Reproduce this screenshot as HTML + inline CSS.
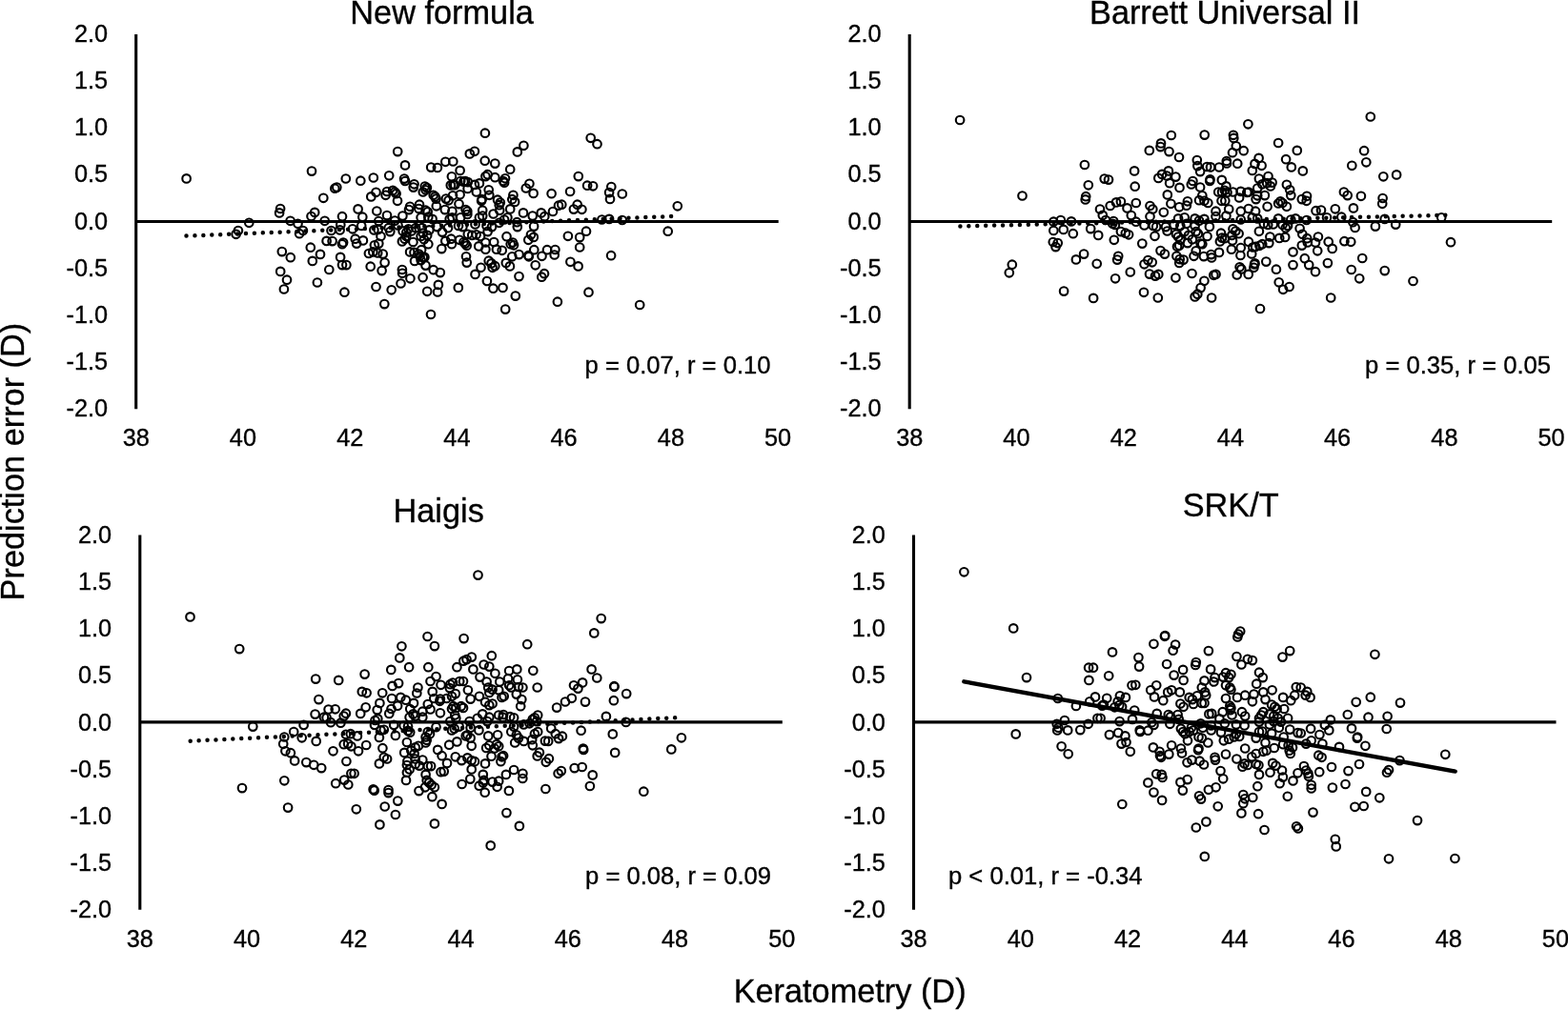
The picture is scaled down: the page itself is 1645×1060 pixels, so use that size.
<!DOCTYPE html>
<html lang="en">
<head>
<meta charset="utf-8">
<title>Prediction error vs keratometry</title>
<style>
html,body{margin:0;padding:0;background:#fff;}
body{width:1645px;height:1060px;overflow:hidden;}
svg{display:block;font-family:"Liberation Sans",Arial,Helvetica,sans-serif;fill:#000;}
text{stroke:#000;stroke-width:0.35;}
.t{font-size:34.3px;text-anchor:middle;}
.yl{font-size:25.3px;text-anchor:end;}
.xl{font-size:25.3px;text-anchor:middle;}
.st{font-size:25.6px;}
.ax{stroke:#000;stroke-width:3.1;fill:none;}
.zl{stroke:#000;stroke-width:3.2;fill:none;}
.dot{stroke:#000;stroke-width:4.5;stroke-linecap:round;stroke-dasharray:0 8.93;fill:none;}
.reg{stroke:#000;stroke-width:4.4;fill:none;stroke-linecap:round;}
.p circle{fill:none;stroke:#000;stroke-width:2.1;}
</style>
</head>
<body>
<svg width="1645" height="1060" viewBox="0 0 1645 1060">
<rect x="0" y="0" width="1645" height="1060" fill="#fff"/>

<g id="panel1">
<text class="t" x="463.6" y="24.9">New formula</text>
<line class="ax" x1="142.7" y1="36.0" x2="142.7" y2="429.30"/>
<line class="zl" x1="142.7" y1="232.50" x2="816.70" y2="232.50"/>
<text class="yl" x="113.1" y="43.90">2.0</text>
<text class="yl" x="113.1" y="93.06">1.5</text>
<text class="yl" x="113.1" y="142.22">1.0</text>
<text class="yl" x="113.1" y="191.38">0.5</text>
<text class="yl" x="113.1" y="240.54">0.0</text>
<text class="yl" x="113.1" y="289.70">-0.5</text>
<text class="yl" x="113.1" y="338.86">-1.0</text>
<text class="yl" x="113.1" y="388.02">-1.5</text>
<text class="yl" x="113.1" y="437.18">-2.0</text>
<text class="xl" x="142.7" y="468.4">38</text>
<text class="xl" x="254.9" y="468.4">40</text>
<text class="xl" x="367.2" y="468.4">42</text>
<text class="xl" x="479.4" y="468.4">44</text>
<text class="xl" x="591.6" y="468.4">46</text>
<text class="xl" x="703.9" y="468.4">48</text>
<text class="xl" x="816.1" y="468.4">50</text>
<line class="dot" x1="195.5" y1="247.6" x2="704.49" y2="227.0"/>
<text class="st" x="808.5" y="391.7" text-anchor="end">p = 0.07, r = 0.10</text>
<g class="p">
<circle cx="195.6" cy="187.4" r="4.3"/>
<circle cx="327.0" cy="179.6" r="4.3"/>
<circle cx="362.8" cy="187.5" r="4.3"/>
<circle cx="351.3" cy="197.7" r="4.3"/>
<circle cx="353.3" cy="196.6" r="4.3"/>
<circle cx="339.3" cy="207.8" r="4.3"/>
<circle cx="294.1" cy="219.0" r="4.3"/>
<circle cx="293.1" cy="223.4" r="4.3"/>
<circle cx="330.2" cy="222.9" r="4.3"/>
<circle cx="508.9" cy="139.7" r="4.3"/>
<circle cx="417.2" cy="159.1" r="4.3"/>
<circle cx="497.9" cy="158.8" r="4.3"/>
<circle cx="492.8" cy="161.4" r="4.3"/>
<circle cx="542.8" cy="159.4" r="4.3"/>
<circle cx="425.0" cy="173.4" r="4.3"/>
<circle cx="467.3" cy="169.8" r="4.3"/>
<circle cx="475.3" cy="169.5" r="4.3"/>
<circle cx="452.2" cy="175.6" r="4.3"/>
<circle cx="458.9" cy="176.0" r="4.3"/>
<circle cx="508.7" cy="168.7" r="4.3"/>
<circle cx="519.3" cy="171.6" r="4.3"/>
<circle cx="482.6" cy="178.9" r="4.3"/>
<circle cx="535.2" cy="177.7" r="4.3"/>
<circle cx="378.3" cy="189.7" r="4.3"/>
<circle cx="391.8" cy="186.5" r="4.3"/>
<circle cx="408.2" cy="184.3" r="4.3"/>
<circle cx="473.9" cy="185.3" r="4.3"/>
<circle cx="511.6" cy="183.2" r="4.3"/>
<circle cx="509.4" cy="185.1" r="4.3"/>
<circle cx="519.3" cy="186.2" r="4.3"/>
<circle cx="530.0" cy="187.3" r="4.3"/>
<circle cx="528.0" cy="190.0" r="4.3"/>
<circle cx="529.1" cy="191.7" r="4.3"/>
<circle cx="424.1" cy="187.6" r="4.3"/>
<circle cx="425.0" cy="190.0" r="4.3"/>
<circle cx="434.5" cy="193.3" r="4.3"/>
<circle cx="433.7" cy="196.6" r="4.3"/>
<circle cx="445.8" cy="195.5" r="4.3"/>
<circle cx="447.9" cy="197.1" r="4.3"/>
<circle cx="446.5" cy="199.3" r="4.3"/>
<circle cx="443.8" cy="201.5" r="4.3"/>
<circle cx="475.5" cy="193.9" r="4.3"/>
<circle cx="477.2" cy="194.2" r="4.3"/>
<circle cx="472.8" cy="194.4" r="4.3"/>
<circle cx="483.2" cy="190.0" r="4.3"/>
<circle cx="486.5" cy="190.6" r="4.3"/>
<circle cx="488.1" cy="190.0" r="4.3"/>
<circle cx="490.8" cy="191.1" r="4.3"/>
<circle cx="497.9" cy="193.9" r="4.3"/>
<circle cx="502.9" cy="192.4" r="4.3"/>
<circle cx="490.6" cy="197.9" r="4.3"/>
<circle cx="499.8" cy="201.5" r="4.3"/>
<circle cx="512.7" cy="199.3" r="4.3"/>
<circle cx="513.3" cy="204.8" r="4.3"/>
<circle cx="394.5" cy="201.8" r="4.3"/>
<circle cx="389.3" cy="206.4" r="4.3"/>
<circle cx="406.0" cy="201.0" r="4.3"/>
<circle cx="404.6" cy="204.8" r="4.3"/>
<circle cx="412.1" cy="199.9" r="4.3"/>
<circle cx="414.2" cy="201.5" r="4.3"/>
<circle cx="415.6" cy="203.2" r="4.3"/>
<circle cx="417.0" cy="210.8" r="4.3"/>
<circle cx="454.7" cy="204.8" r="4.3"/>
<circle cx="456.4" cy="206.4" r="4.3"/>
<circle cx="457.5" cy="208.6" r="4.3"/>
<circle cx="482.6" cy="204.3" r="4.3"/>
<circle cx="475.0" cy="205.3" r="4.3"/>
<circle cx="467.9" cy="208.6" r="4.3"/>
<circle cx="470.6" cy="210.3" r="4.3"/>
<circle cx="505.6" cy="209.2" r="4.3"/>
<circle cx="505.1" cy="210.8" r="4.3"/>
<circle cx="522.0" cy="209.7" r="4.3"/>
<circle cx="524.8" cy="212.5" r="4.3"/>
<circle cx="523.7" cy="215.2" r="4.3"/>
<circle cx="538.4" cy="204.8" r="4.3"/>
<circle cx="537.3" cy="209.2" r="4.3"/>
<circle cx="540.1" cy="211.9" r="4.3"/>
<circle cx="457.8" cy="216.3" r="4.3"/>
<circle cx="481.5" cy="214.1" r="4.3"/>
<circle cx="430.1" cy="216.8" r="4.3"/>
<circle cx="429.0" cy="220.1" r="4.3"/>
<circle cx="440.0" cy="214.7" r="4.3"/>
<circle cx="439.4" cy="219.0" r="4.3"/>
<circle cx="446.5" cy="220.7" r="4.3"/>
<circle cx="448.7" cy="222.3" r="4.3"/>
<circle cx="375.6" cy="219.4" r="4.3"/>
<circle cx="395.3" cy="221.5" r="4.3"/>
<circle cx="466.8" cy="220.1" r="4.3"/>
<circle cx="474.4" cy="221.8" r="4.3"/>
<circle cx="488.6" cy="220.1" r="4.3"/>
<circle cx="490.3" cy="221.8" r="4.3"/>
<circle cx="506.2" cy="220.7" r="4.3"/>
<circle cx="535.2" cy="219.4" r="4.3"/>
<circle cx="524.2" cy="220.7" r="4.3"/>
<circle cx="517.6" cy="224.5" r="4.3"/>
<circle cx="619.7" cy="144.8" r="4.3"/>
<circle cx="626.5" cy="151.2" r="4.3"/>
<circle cx="549.4" cy="152.8" r="4.3"/>
<circle cx="606.8" cy="185.1" r="4.3"/>
<circle cx="555.4" cy="192.8" r="4.3"/>
<circle cx="551.8" cy="197.5" r="4.3"/>
<circle cx="559.6" cy="202.9" r="4.3"/>
<circle cx="578.6" cy="203.2" r="4.3"/>
<circle cx="598.1" cy="201.0" r="4.3"/>
<circle cx="616.1" cy="194.7" r="4.3"/>
<circle cx="622.1" cy="195.3" r="4.3"/>
<circle cx="641.3" cy="196.0" r="4.3"/>
<circle cx="639.1" cy="202.1" r="4.3"/>
<circle cx="640.0" cy="208.9" r="4.3"/>
<circle cx="652.8" cy="203.5" r="4.3"/>
<circle cx="586.0" cy="215.7" r="4.3"/>
<circle cx="589.3" cy="214.7" r="4.3"/>
<circle cx="605.7" cy="214.7" r="4.3"/>
<circle cx="601.9" cy="219.6" r="4.3"/>
<circle cx="610.4" cy="219.8" r="4.3"/>
<circle cx="580.0" cy="222.0" r="4.3"/>
<circle cx="567.8" cy="223.4" r="4.3"/>
<circle cx="549.0" cy="223.4" r="4.3"/>
<circle cx="710.8" cy="216.3" r="4.3"/>
<circle cx="261.3" cy="233.8" r="4.3"/>
<circle cx="249.9" cy="242.0" r="4.3"/>
<circle cx="247.6" cy="245.8" r="4.3"/>
<circle cx="304.6" cy="231.8" r="4.3"/>
<circle cx="312.5" cy="234.8" r="4.3"/>
<circle cx="317.9" cy="242.0" r="4.3"/>
<circle cx="314.1" cy="245.2" r="4.3"/>
<circle cx="326.5" cy="227.0" r="4.3"/>
<circle cx="359.0" cy="227.2" r="4.3"/>
<circle cx="340.7" cy="231.8" r="4.3"/>
<circle cx="347.5" cy="242.0" r="4.3"/>
<circle cx="356.6" cy="241.4" r="4.3"/>
<circle cx="357.3" cy="235.9" r="4.3"/>
<circle cx="342.6" cy="252.9" r="4.3"/>
<circle cx="348.6" cy="253.1" r="4.3"/>
<circle cx="359.0" cy="256.2" r="4.3"/>
<circle cx="360.1" cy="254.5" r="4.3"/>
<circle cx="325.8" cy="259.7" r="4.3"/>
<circle cx="336.0" cy="266.9" r="4.3"/>
<circle cx="295.8" cy="264.1" r="4.3"/>
<circle cx="304.8" cy="270.2" r="4.3"/>
<circle cx="327.8" cy="273.9" r="4.3"/>
<circle cx="357.1" cy="269.9" r="4.3"/>
<circle cx="359.0" cy="278.1" r="4.3"/>
<circle cx="363.4" cy="278.1" r="4.3"/>
<circle cx="345.3" cy="283.0" r="4.3"/>
<circle cx="294.2" cy="284.9" r="4.3"/>
<circle cx="301.0" cy="293.7" r="4.3"/>
<circle cx="332.9" cy="296.5" r="4.3"/>
<circle cx="297.9" cy="303.5" r="4.3"/>
<circle cx="361.4" cy="306.7" r="4.3"/>
<circle cx="452.0" cy="330.0" r="4.3"/>
<circle cx="403.3" cy="319.1" r="4.3"/>
<circle cx="530.2" cy="324.6" r="4.3"/>
<circle cx="540.8" cy="310.6" r="4.3"/>
<circle cx="394.5" cy="301.0" r="4.3"/>
<circle cx="410.7" cy="304.3" r="4.3"/>
<circle cx="420.5" cy="297.5" r="4.3"/>
<circle cx="448.2" cy="305.8" r="4.3"/>
<circle cx="459.1" cy="306.5" r="4.3"/>
<circle cx="459.9" cy="298.9" r="4.3"/>
<circle cx="480.8" cy="301.9" r="4.3"/>
<circle cx="517.4" cy="302.7" r="4.3"/>
<circle cx="527.5" cy="301.9" r="4.3"/>
<circle cx="510.9" cy="295.0" r="4.3"/>
<circle cx="430.4" cy="292.3" r="4.3"/>
<circle cx="443.6" cy="291.2" r="4.3"/>
<circle cx="498.5" cy="287.9" r="4.3"/>
<circle cx="421.9" cy="283.0" r="4.3"/>
<circle cx="422.1" cy="286.8" r="4.3"/>
<circle cx="454.7" cy="283.2" r="4.3"/>
<circle cx="461.8" cy="286.1" r="4.3"/>
<circle cx="544.5" cy="290.1" r="4.3"/>
<circle cx="388.7" cy="279.7" r="4.3"/>
<circle cx="400.6" cy="284.1" r="4.3"/>
<circle cx="403.6" cy="275.6" r="4.3"/>
<circle cx="446.5" cy="278.6" r="4.3"/>
<circle cx="504.5" cy="280.8" r="4.3"/>
<circle cx="489.7" cy="275.6" r="4.3"/>
<circle cx="489.0" cy="269.3" r="4.3"/>
<circle cx="512.7" cy="273.7" r="4.3"/>
<circle cx="515.5" cy="276.4" r="4.3"/>
<circle cx="519.3" cy="279.2" r="4.3"/>
<circle cx="516.6" cy="280.8" r="4.3"/>
<circle cx="530.8" cy="275.9" r="4.3"/>
<circle cx="534.9" cy="279.4" r="4.3"/>
<circle cx="435.0" cy="273.9" r="4.3"/>
<circle cx="440.5" cy="268.8" r="4.3"/>
<circle cx="443.8" cy="270.4" r="4.3"/>
<circle cx="445.4" cy="269.9" r="4.3"/>
<circle cx="441.6" cy="273.1" r="4.3"/>
<circle cx="430.1" cy="264.4" r="4.3"/>
<circle cx="434.5" cy="264.9" r="4.3"/>
<circle cx="442.1" cy="262.2" r="4.3"/>
<circle cx="439.4" cy="266.6" r="4.3"/>
<circle cx="386.9" cy="266.0" r="4.3"/>
<circle cx="391.3" cy="264.4" r="4.3"/>
<circle cx="396.2" cy="265.5" r="4.3"/>
<circle cx="401.7" cy="266.6" r="4.3"/>
<circle cx="392.9" cy="257.3" r="4.3"/>
<circle cx="397.3" cy="255.6" r="4.3"/>
<circle cx="463.3" cy="261.1" r="4.3"/>
<circle cx="502.3" cy="258.4" r="4.3"/>
<circle cx="509.4" cy="261.7" r="4.3"/>
<circle cx="520.9" cy="261.7" r="4.3"/>
<circle cx="526.7" cy="262.8" r="4.3"/>
<circle cx="537.3" cy="269.3" r="4.3"/>
<circle cx="544.5" cy="267.1" r="4.3"/>
<circle cx="374.1" cy="255.6" r="4.3"/>
<circle cx="380.9" cy="252.4" r="4.3"/>
<circle cx="372.7" cy="250.7" r="4.3"/>
<circle cx="399.5" cy="248.0" r="4.3"/>
<circle cx="467.3" cy="252.9" r="4.3"/>
<circle cx="473.9" cy="256.2" r="4.3"/>
<circle cx="473.3" cy="250.7" r="4.3"/>
<circle cx="482.1" cy="251.8" r="4.3"/>
<circle cx="488.1" cy="255.6" r="4.3"/>
<circle cx="489.7" cy="257.8" r="4.3"/>
<circle cx="486.5" cy="254.0" r="4.3"/>
<circle cx="518.2" cy="254.0" r="4.3"/>
<circle cx="509.4" cy="254.5" r="4.3"/>
<circle cx="531.5" cy="248.2" r="4.3"/>
<circle cx="537.9" cy="254.5" r="4.3"/>
<circle cx="539.0" cy="257.3" r="4.3"/>
<circle cx="535.7" cy="256.2" r="4.3"/>
<circle cx="433.4" cy="254.0" r="4.3"/>
<circle cx="449.3" cy="256.2" r="4.3"/>
<circle cx="421.9" cy="253.4" r="4.3"/>
<circle cx="424.6" cy="250.7" r="4.3"/>
<circle cx="426.3" cy="248.0" r="4.3"/>
<circle cx="444.9" cy="251.3" r="4.3"/>
<circle cx="441.6" cy="248.0" r="4.3"/>
<circle cx="448.2" cy="246.9" r="4.3"/>
<circle cx="443.8" cy="244.7" r="4.3"/>
<circle cx="464.0" cy="243.6" r="4.3"/>
<circle cx="490.8" cy="245.8" r="4.3"/>
<circle cx="495.2" cy="246.9" r="4.3"/>
<circle cx="499.6" cy="246.3" r="4.3"/>
<circle cx="504.0" cy="248.0" r="4.3"/>
<circle cx="511.6" cy="243.1" r="4.3"/>
<circle cx="392.4" cy="241.4" r="4.3"/>
<circle cx="396.7" cy="240.9" r="4.3"/>
<circle cx="409.3" cy="243.1" r="4.3"/>
<circle cx="407.7" cy="239.2" r="4.3"/>
<circle cx="369.9" cy="240.3" r="4.3"/>
<circle cx="379.2" cy="237.0" r="4.3"/>
<circle cx="380.3" cy="227.7" r="4.3"/>
<circle cx="397.3" cy="232.1" r="4.3"/>
<circle cx="406.0" cy="226.1" r="4.3"/>
<circle cx="414.2" cy="231.6" r="4.3"/>
<circle cx="417.5" cy="236.5" r="4.3"/>
<circle cx="422.4" cy="226.6" r="4.3"/>
<circle cx="428.5" cy="240.3" r="4.3"/>
<circle cx="431.7" cy="242.5" r="4.3"/>
<circle cx="426.3" cy="244.1" r="4.3"/>
<circle cx="436.1" cy="239.2" r="4.3"/>
<circle cx="442.7" cy="239.2" r="4.3"/>
<circle cx="450.3" cy="241.4" r="4.3"/>
<circle cx="441.6" cy="228.3" r="4.3"/>
<circle cx="449.3" cy="227.7" r="4.3"/>
<circle cx="453.6" cy="229.9" r="4.3"/>
<circle cx="458.6" cy="238.1" r="4.3"/>
<circle cx="470.0" cy="239.2" r="4.3"/>
<circle cx="471.7" cy="229.9" r="4.3"/>
<circle cx="474.4" cy="228.3" r="4.3"/>
<circle cx="481.0" cy="237.0" r="4.3"/>
<circle cx="485.4" cy="238.1" r="4.3"/>
<circle cx="483.2" cy="228.3" r="4.3"/>
<circle cx="490.3" cy="225.0" r="4.3"/>
<circle cx="498.5" cy="235.4" r="4.3"/>
<circle cx="502.9" cy="228.3" r="4.3"/>
<circle cx="506.2" cy="226.6" r="4.3"/>
<circle cx="510.5" cy="237.0" r="4.3"/>
<circle cx="516.0" cy="238.1" r="4.3"/>
<circle cx="523.7" cy="233.8" r="4.3"/>
<circle cx="529.1" cy="230.5" r="4.3"/>
<circle cx="532.4" cy="228.3" r="4.3"/>
<circle cx="542.3" cy="233.2" r="4.3"/>
<circle cx="542.8" cy="238.1" r="4.3"/>
<circle cx="631.4" cy="230.5" r="4.3"/>
<circle cx="639.1" cy="229.9" r="4.3"/>
<circle cx="652.8" cy="231.0" r="4.3"/>
<circle cx="700.7" cy="242.7" r="4.3"/>
<circle cx="558.7" cy="226.6" r="4.3"/>
<circle cx="571.3" cy="227.2" r="4.3"/>
<circle cx="560.1" cy="237.6" r="4.3"/>
<circle cx="557.0" cy="246.3" r="4.3"/>
<circle cx="559.8" cy="248.9" r="4.3"/>
<circle cx="554.3" cy="251.8" r="4.3"/>
<circle cx="595.9" cy="247.8" r="4.3"/>
<circle cx="615.0" cy="242.7" r="4.3"/>
<circle cx="608.2" cy="249.1" r="4.3"/>
<circle cx="608.2" cy="259.5" r="4.3"/>
<circle cx="560.3" cy="262.2" r="4.3"/>
<circle cx="574.0" cy="262.2" r="4.3"/>
<circle cx="582.4" cy="262.0" r="4.3"/>
<circle cx="581.7" cy="267.5" r="4.3"/>
<circle cx="568.5" cy="268.8" r="4.3"/>
<circle cx="554.3" cy="268.2" r="4.3"/>
<circle cx="554.8" cy="269.3" r="4.3"/>
<circle cx="641.1" cy="268.2" r="4.3"/>
<circle cx="598.4" cy="274.8" r="4.3"/>
<circle cx="606.6" cy="279.4" r="4.3"/>
<circle cx="561.7" cy="278.3" r="4.3"/>
<circle cx="571.0" cy="287.2" r="4.3"/>
<circle cx="568.3" cy="290.7" r="4.3"/>
<circle cx="617.5" cy="306.7" r="4.3"/>
<circle cx="584.9" cy="316.7" r="4.3"/>
<circle cx="671.2" cy="320.0" r="4.3"/>
<circle cx="422.6" cy="242.4" r="4.3"/>
</g>
</g>
<g id="panel2">
<text class="t" x="1285" y="24.9">Barrett Universal II</text>
<line class="ax" x1="954.2" y1="36.0" x2="954.2" y2="429.30"/>
<line class="zl" x1="954.2" y1="232.50" x2="1628.20" y2="232.50"/>
<text class="yl" x="924.6" y="43.90">2.0</text>
<text class="yl" x="924.6" y="93.06">1.5</text>
<text class="yl" x="924.6" y="142.22">1.0</text>
<text class="yl" x="924.6" y="191.38">0.5</text>
<text class="yl" x="924.6" y="240.54">0.0</text>
<text class="yl" x="924.6" y="289.70">-0.5</text>
<text class="yl" x="924.6" y="338.86">-1.0</text>
<text class="yl" x="924.6" y="388.02">-1.5</text>
<text class="yl" x="924.6" y="437.18">-2.0</text>
<text class="xl" x="954.2" y="468.4">38</text>
<text class="xl" x="1066.4" y="468.4">40</text>
<text class="xl" x="1178.7" y="468.4">42</text>
<text class="xl" x="1290.9" y="468.4">44</text>
<text class="xl" x="1403.1" y="468.4">46</text>
<text class="xl" x="1515.4" y="468.4">48</text>
<text class="xl" x="1627.6" y="468.4">50</text>
<line class="dot" x1="1007.4" y1="237.4" x2="1516.68" y2="225.81"/>
<text class="st" x="1627" y="391.7" text-anchor="end">p = 0.35, r = 0.05</text>
<g class="p">
<circle cx="1007.1" cy="126.0" r="4.3"/>
<circle cx="1137.9" cy="173.0" r="4.3"/>
<circle cx="1158.7" cy="187.6" r="4.3"/>
<circle cx="1163.0" cy="188.6" r="4.3"/>
<circle cx="1141.8" cy="194.3" r="4.3"/>
<circle cx="1072.5" cy="205.5" r="4.3"/>
<circle cx="1139.2" cy="206.2" r="4.3"/>
<circle cx="1138.7" cy="209.4" r="4.3"/>
<circle cx="1154.0" cy="219.5" r="4.3"/>
<circle cx="1164.7" cy="216.0" r="4.3"/>
<circle cx="1171.0" cy="212.4" r="4.3"/>
<circle cx="1175.9" cy="211.6" r="4.3"/>
<circle cx="1309.4" cy="130.3" r="4.3"/>
<circle cx="1228.8" cy="142.0" r="4.3"/>
<circle cx="1263.7" cy="141.6" r="4.3"/>
<circle cx="1293.9" cy="141.8" r="4.3"/>
<circle cx="1294.3" cy="144.9" r="4.3"/>
<circle cx="1341.1" cy="150.0" r="4.3"/>
<circle cx="1218.0" cy="150.4" r="4.3"/>
<circle cx="1217.5" cy="154.1" r="4.3"/>
<circle cx="1205.8" cy="157.9" r="4.3"/>
<circle cx="1226.5" cy="159.1" r="4.3"/>
<circle cx="1296.8" cy="153.3" r="4.3"/>
<circle cx="1293.0" cy="160.2" r="4.3"/>
<circle cx="1304.7" cy="158.2" r="4.3"/>
<circle cx="1237.0" cy="165.0" r="4.3"/>
<circle cx="1255.8" cy="168.1" r="4.3"/>
<circle cx="1256.3" cy="174.1" r="4.3"/>
<circle cx="1320.6" cy="165.9" r="4.3"/>
<circle cx="1316.5" cy="171.9" r="4.3"/>
<circle cx="1323.6" cy="173.8" r="4.3"/>
<circle cx="1349.1" cy="167.2" r="4.3"/>
<circle cx="1286.8" cy="169.0" r="4.3"/>
<circle cx="1287.0" cy="171.4" r="4.3"/>
<circle cx="1298.2" cy="171.7" r="4.3"/>
<circle cx="1266.2" cy="175.0" r="4.3"/>
<circle cx="1270.0" cy="175.4" r="4.3"/>
<circle cx="1279.0" cy="175.5" r="4.3"/>
<circle cx="1313.8" cy="179.0" r="4.3"/>
<circle cx="1354.8" cy="175.4" r="4.3"/>
<circle cx="1259.1" cy="180.1" r="4.3"/>
<circle cx="1190.1" cy="179.4" r="4.3"/>
<circle cx="1225.9" cy="179.4" r="4.3"/>
<circle cx="1219.1" cy="182.9" r="4.3"/>
<circle cx="1224.1" cy="184.5" r="4.3"/>
<circle cx="1215.3" cy="186.9" r="4.3"/>
<circle cx="1233.4" cy="185.6" r="4.3"/>
<circle cx="1227.1" cy="192.2" r="4.3"/>
<circle cx="1269.5" cy="188.3" r="4.3"/>
<circle cx="1269.2" cy="190.0" r="4.3"/>
<circle cx="1281.8" cy="188.9" r="4.3"/>
<circle cx="1251.4" cy="190.0" r="4.3"/>
<circle cx="1249.8" cy="193.5" r="4.3"/>
<circle cx="1320.9" cy="187.6" r="4.3"/>
<circle cx="1330.5" cy="185.0" r="4.3"/>
<circle cx="1324.2" cy="193.3" r="4.3"/>
<circle cx="1329.1" cy="192.2" r="4.3"/>
<circle cx="1334.6" cy="191.6" r="4.3"/>
<circle cx="1332.9" cy="195.4" r="4.3"/>
<circle cx="1319.2" cy="197.6" r="4.3"/>
<circle cx="1349.9" cy="193.8" r="4.3"/>
<circle cx="1190.7" cy="195.7" r="4.3"/>
<circle cx="1237.5" cy="196.9" r="4.3"/>
<circle cx="1259.1" cy="196.5" r="4.3"/>
<circle cx="1286.4" cy="195.4" r="4.3"/>
<circle cx="1284.8" cy="199.8" r="4.3"/>
<circle cx="1282.0" cy="201.5" r="4.3"/>
<circle cx="1278.2" cy="201.5" r="4.3"/>
<circle cx="1287.5" cy="202.0" r="4.3"/>
<circle cx="1293.5" cy="201.5" r="4.3"/>
<circle cx="1301.7" cy="200.9" r="4.3"/>
<circle cx="1309.9" cy="201.5" r="4.3"/>
<circle cx="1308.3" cy="202.0" r="4.3"/>
<circle cx="1353.2" cy="199.3" r="4.3"/>
<circle cx="1354.3" cy="205.1" r="4.3"/>
<circle cx="1224.8" cy="204.4" r="4.3"/>
<circle cx="1261.3" cy="205.3" r="4.3"/>
<circle cx="1326.9" cy="205.1" r="4.3"/>
<circle cx="1319.2" cy="205.3" r="4.3"/>
<circle cx="1317.6" cy="209.1" r="4.3"/>
<circle cx="1300.1" cy="207.5" r="4.3"/>
<circle cx="1258.0" cy="210.2" r="4.3"/>
<circle cx="1263.4" cy="210.8" r="4.3"/>
<circle cx="1267.3" cy="213.0" r="4.3"/>
<circle cx="1245.9" cy="211.3" r="4.3"/>
<circle cx="1244.8" cy="215.7" r="4.3"/>
<circle cx="1281.5" cy="210.8" r="4.3"/>
<circle cx="1285.3" cy="210.8" r="4.3"/>
<circle cx="1191.8" cy="213.0" r="4.3"/>
<circle cx="1228.4" cy="213.8" r="4.3"/>
<circle cx="1206.5" cy="216.0" r="4.3"/>
<circle cx="1209.3" cy="219.5" r="4.3"/>
<circle cx="1182.5" cy="218.4" r="4.3"/>
<circle cx="1237.2" cy="217.3" r="4.3"/>
<circle cx="1343.3" cy="211.3" r="4.3"/>
<circle cx="1345.5" cy="213.0" r="4.3"/>
<circle cx="1341.1" cy="213.5" r="4.3"/>
<circle cx="1349.9" cy="216.8" r="4.3"/>
<circle cx="1329.6" cy="216.8" r="4.3"/>
<circle cx="1309.9" cy="219.0" r="4.3"/>
<circle cx="1289.2" cy="219.5" r="4.3"/>
<circle cx="1275.5" cy="221.7" r="4.3"/>
<circle cx="1301.7" cy="221.7" r="4.3"/>
<circle cx="1220.8" cy="222.8" r="4.3"/>
<circle cx="1317.1" cy="221.7" r="4.3"/>
<circle cx="1437.8" cy="122.5" r="4.3"/>
<circle cx="1360.8" cy="157.9" r="4.3"/>
<circle cx="1431.1" cy="158.2" r="4.3"/>
<circle cx="1433.3" cy="170.3" r="4.3"/>
<circle cx="1418.3" cy="173.8" r="4.3"/>
<circle cx="1366.8" cy="179.4" r="4.3"/>
<circle cx="1451.3" cy="185.3" r="4.3"/>
<circle cx="1465.1" cy="183.4" r="4.3"/>
<circle cx="1409.9" cy="201.5" r="4.3"/>
<circle cx="1413.7" cy="205.1" r="4.3"/>
<circle cx="1427.9" cy="205.8" r="4.3"/>
<circle cx="1450.6" cy="208.0" r="4.3"/>
<circle cx="1450.2" cy="213.8" r="4.3"/>
<circle cx="1371.0" cy="205.8" r="4.3"/>
<circle cx="1365.8" cy="209.1" r="4.3"/>
<circle cx="1370.7" cy="210.8" r="4.3"/>
<circle cx="1419.9" cy="218.4" r="4.3"/>
<circle cx="1400.8" cy="219.3" r="4.3"/>
<circle cx="1380.5" cy="221.2" r="4.3"/>
<circle cx="1386.0" cy="220.6" r="4.3"/>
<circle cx="1061.8" cy="277.7" r="4.3"/>
<circle cx="1058.8" cy="286.3" r="4.3"/>
<circle cx="1105.3" cy="232.7" r="4.3"/>
<circle cx="1112.8" cy="231.0" r="4.3"/>
<circle cx="1123.9" cy="232.4" r="4.3"/>
<circle cx="1105.3" cy="242.0" r="4.3"/>
<circle cx="1115.7" cy="240.9" r="4.3"/>
<circle cx="1125.8" cy="245.2" r="4.3"/>
<circle cx="1104.8" cy="254.0" r="4.3"/>
<circle cx="1109.7" cy="255.1" r="4.3"/>
<circle cx="1107.5" cy="259.1" r="4.3"/>
<circle cx="1144.2" cy="240.1" r="4.3"/>
<circle cx="1152.2" cy="246.9" r="4.3"/>
<circle cx="1168.8" cy="251.8" r="4.3"/>
<circle cx="1137.1" cy="266.6" r="4.3"/>
<circle cx="1128.9" cy="272.4" r="4.3"/>
<circle cx="1150.7" cy="276.8" r="4.3"/>
<circle cx="1173.2" cy="268.8" r="4.3"/>
<circle cx="1172.1" cy="272.6" r="4.3"/>
<circle cx="1170.1" cy="292.3" r="4.3"/>
<circle cx="1116.1" cy="305.6" r="4.3"/>
<circle cx="1147.1" cy="312.9" r="4.3"/>
<circle cx="1156.8" cy="225.9" r="4.3"/>
<circle cx="1160.0" cy="231.0" r="4.3"/>
<circle cx="1168.2" cy="232.1" r="4.3"/>
<circle cx="1167.2" cy="234.8" r="4.3"/>
<circle cx="1169.9" cy="235.9" r="4.3"/>
<circle cx="1175.9" cy="243.1" r="4.3"/>
<circle cx="1322.0" cy="324.0" r="4.3"/>
<circle cx="1200.0" cy="306.8" r="4.3"/>
<circle cx="1214.8" cy="312.5" r="4.3"/>
<circle cx="1253.6" cy="311.4" r="4.3"/>
<circle cx="1256.3" cy="308.7" r="4.3"/>
<circle cx="1259.6" cy="302.1" r="4.3"/>
<circle cx="1263.4" cy="294.8" r="4.3"/>
<circle cx="1271.1" cy="312.5" r="4.3"/>
<circle cx="1341.7" cy="296.3" r="4.3"/>
<circle cx="1346.1" cy="303.8" r="4.3"/>
<circle cx="1352.6" cy="301.0" r="4.3"/>
<circle cx="1185.8" cy="285.5" r="4.3"/>
<circle cx="1206.0" cy="287.6" r="4.3"/>
<circle cx="1212.0" cy="289.6" r="4.3"/>
<circle cx="1215.3" cy="287.9" r="4.3"/>
<circle cx="1233.4" cy="291.5" r="4.3"/>
<circle cx="1250.5" cy="287.0" r="4.3"/>
<circle cx="1273.3" cy="288.8" r="4.3"/>
<circle cx="1275.5" cy="287.9" r="4.3"/>
<circle cx="1297.7" cy="288.5" r="4.3"/>
<circle cx="1309.7" cy="287.9" r="4.3"/>
<circle cx="1338.9" cy="282.7" r="4.3"/>
<circle cx="1300.6" cy="280.3" r="4.3"/>
<circle cx="1302.3" cy="282.4" r="4.3"/>
<circle cx="1315.4" cy="280.8" r="4.3"/>
<circle cx="1316.5" cy="276.4" r="4.3"/>
<circle cx="1316.0" cy="277.5" r="4.3"/>
<circle cx="1328.3" cy="274.6" r="4.3"/>
<circle cx="1356.5" cy="278.1" r="4.3"/>
<circle cx="1356.5" cy="264.4" r="4.3"/>
<circle cx="1200.5" cy="277.3" r="4.3"/>
<circle cx="1204.4" cy="273.1" r="4.3"/>
<circle cx="1208.7" cy="275.3" r="4.3"/>
<circle cx="1217.5" cy="263.1" r="4.3"/>
<circle cx="1221.9" cy="266.6" r="4.3"/>
<circle cx="1234.4" cy="268.8" r="4.3"/>
<circle cx="1237.7" cy="272.1" r="4.3"/>
<circle cx="1241.6" cy="272.6" r="4.3"/>
<circle cx="1237.2" cy="275.9" r="4.3"/>
<circle cx="1252.5" cy="268.8" r="4.3"/>
<circle cx="1254.7" cy="263.3" r="4.3"/>
<circle cx="1262.9" cy="269.1" r="4.3"/>
<circle cx="1270.6" cy="267.1" r="4.3"/>
<circle cx="1271.1" cy="270.4" r="4.3"/>
<circle cx="1279.0" cy="264.9" r="4.3"/>
<circle cx="1301.4" cy="268.0" r="4.3"/>
<circle cx="1313.2" cy="266.4" r="4.3"/>
<circle cx="1291.9" cy="261.7" r="4.3"/>
<circle cx="1301.7" cy="260.0" r="4.3"/>
<circle cx="1198.3" cy="255.6" r="4.3"/>
<circle cx="1211.5" cy="247.8" r="4.3"/>
<circle cx="1235.0" cy="258.7" r="4.3"/>
<circle cx="1237.2" cy="257.8" r="4.3"/>
<circle cx="1245.9" cy="255.1" r="4.3"/>
<circle cx="1259.6" cy="255.6" r="4.3"/>
<circle cx="1261.3" cy="256.2" r="4.3"/>
<circle cx="1279.9" cy="253.4" r="4.3"/>
<circle cx="1282.0" cy="249.6" r="4.3"/>
<circle cx="1284.8" cy="250.2" r="4.3"/>
<circle cx="1293.0" cy="252.4" r="4.3"/>
<circle cx="1292.4" cy="246.9" r="4.3"/>
<circle cx="1309.9" cy="253.7" r="4.3"/>
<circle cx="1314.3" cy="259.5" r="4.3"/>
<circle cx="1317.1" cy="258.9" r="4.3"/>
<circle cx="1321.4" cy="257.8" r="4.3"/>
<circle cx="1324.2" cy="256.2" r="4.3"/>
<circle cx="1331.3" cy="255.1" r="4.3"/>
<circle cx="1332.4" cy="248.5" r="4.3"/>
<circle cx="1342.2" cy="249.9" r="4.3"/>
<circle cx="1348.2" cy="248.9" r="4.3"/>
<circle cx="1320.9" cy="242.8" r="4.3"/>
<circle cx="1180.8" cy="244.7" r="4.3"/>
<circle cx="1184.1" cy="246.3" r="4.3"/>
<circle cx="1224.6" cy="242.5" r="4.3"/>
<circle cx="1223.0" cy="238.1" r="4.3"/>
<circle cx="1233.9" cy="245.8" r="4.3"/>
<circle cx="1236.1" cy="248.5" r="4.3"/>
<circle cx="1238.3" cy="251.8" r="4.3"/>
<circle cx="1242.7" cy="243.1" r="4.3"/>
<circle cx="1247.0" cy="246.9" r="4.3"/>
<circle cx="1250.9" cy="251.3" r="4.3"/>
<circle cx="1254.7" cy="243.1" r="4.3"/>
<circle cx="1256.9" cy="245.2" r="4.3"/>
<circle cx="1266.5" cy="248.0" r="4.3"/>
<circle cx="1268.9" cy="237.9" r="4.3"/>
<circle cx="1281.0" cy="244.7" r="4.3"/>
<circle cx="1293.5" cy="240.3" r="4.3"/>
<circle cx="1296.3" cy="242.5" r="4.3"/>
<circle cx="1299.6" cy="245.2" r="4.3"/>
<circle cx="1191.8" cy="232.7" r="4.3"/>
<circle cx="1200.5" cy="236.5" r="4.3"/>
<circle cx="1209.8" cy="237.0" r="4.3"/>
<circle cx="1213.1" cy="238.1" r="4.3"/>
<circle cx="1186.8" cy="226.1" r="4.3"/>
<circle cx="1206.5" cy="227.2" r="4.3"/>
<circle cx="1231.7" cy="235.9" r="4.3"/>
<circle cx="1238.3" cy="237.0" r="4.3"/>
<circle cx="1244.8" cy="234.8" r="4.3"/>
<circle cx="1253.6" cy="237.0" r="4.3"/>
<circle cx="1258.0" cy="231.6" r="4.3"/>
<circle cx="1253.6" cy="229.4" r="4.3"/>
<circle cx="1263.4" cy="229.9" r="4.3"/>
<circle cx="1275.5" cy="227.2" r="4.3"/>
<circle cx="1286.4" cy="226.6" r="4.3"/>
<circle cx="1301.7" cy="230.5" r="4.3"/>
<circle cx="1313.8" cy="228.3" r="4.3"/>
<circle cx="1319.2" cy="229.4" r="4.3"/>
<circle cx="1325.8" cy="234.8" r="4.3"/>
<circle cx="1330.2" cy="235.9" r="4.3"/>
<circle cx="1335.7" cy="235.4" r="4.3"/>
<circle cx="1341.1" cy="229.4" r="4.3"/>
<circle cx="1345.5" cy="235.9" r="4.3"/>
<circle cx="1348.8" cy="239.2" r="4.3"/>
<circle cx="1351.0" cy="237.0" r="4.3"/>
<circle cx="1354.3" cy="230.5" r="4.3"/>
<circle cx="1242.7" cy="228.3" r="4.3"/>
<circle cx="1236.1" cy="229.4" r="4.3"/>
<circle cx="1522.0" cy="254.2" r="4.3"/>
<circle cx="1512.2" cy="228.3" r="4.3"/>
<circle cx="1452.7" cy="229.9" r="4.3"/>
<circle cx="1464.2" cy="235.6" r="4.3"/>
<circle cx="1442.9" cy="237.6" r="4.3"/>
<circle cx="1419.4" cy="233.2" r="4.3"/>
<circle cx="1421.6" cy="239.0" r="4.3"/>
<circle cx="1370.7" cy="231.0" r="4.3"/>
<circle cx="1392.0" cy="228.3" r="4.3"/>
<circle cx="1407.3" cy="227.7" r="4.3"/>
<circle cx="1363.6" cy="239.8" r="4.3"/>
<circle cx="1366.3" cy="245.8" r="4.3"/>
<circle cx="1371.2" cy="250.2" r="4.3"/>
<circle cx="1371.8" cy="254.5" r="4.3"/>
<circle cx="1382.9" cy="248.5" r="4.3"/>
<circle cx="1380.0" cy="254.5" r="4.3"/>
<circle cx="1365.8" cy="257.6" r="4.3"/>
<circle cx="1382.2" cy="263.3" r="4.3"/>
<circle cx="1393.7" cy="253.7" r="4.3"/>
<circle cx="1397.7" cy="260.9" r="4.3"/>
<circle cx="1410.4" cy="253.2" r="4.3"/>
<circle cx="1417.2" cy="253.8" r="4.3"/>
<circle cx="1429.2" cy="271.0" r="4.3"/>
<circle cx="1392.9" cy="276.1" r="4.3"/>
<circle cx="1368.8" cy="271.2" r="4.3"/>
<circle cx="1373.2" cy="278.1" r="4.3"/>
<circle cx="1380.0" cy="285.2" r="4.3"/>
<circle cx="1417.7" cy="283.0" r="4.3"/>
<circle cx="1452.7" cy="284.1" r="4.3"/>
<circle cx="1426.2" cy="292.3" r="4.3"/>
<circle cx="1482.5" cy="295.0" r="4.3"/>
<circle cx="1396.2" cy="312.5" r="4.3"/>
<circle cx="1359.2" cy="229.4" r="4.3"/>
</g>
</g>
<g id="panel3">
<text class="t" x="460.2" y="547.7">Haigis</text>
<line class="ax" x1="146.8" y1="561.5" x2="146.8" y2="954.80"/>
<line class="zl" x1="146.8" y1="757.85" x2="820.80" y2="757.85"/>
<text class="yl" x="117.2" y="569.90">2.0</text>
<text class="yl" x="117.2" y="619.06">1.5</text>
<text class="yl" x="117.2" y="668.22">1.0</text>
<text class="yl" x="117.2" y="717.38">0.5</text>
<text class="yl" x="117.2" y="766.54">0.0</text>
<text class="yl" x="117.2" y="815.70">-0.5</text>
<text class="yl" x="117.2" y="864.86">-1.0</text>
<text class="yl" x="117.2" y="914.02">-1.5</text>
<text class="yl" x="117.2" y="963.18">-2.0</text>
<text class="xl" x="146.8" y="993.8">38</text>
<text class="xl" x="259.0" y="993.8">40</text>
<text class="xl" x="371.3" y="993.8">42</text>
<text class="xl" x="483.5" y="993.8">44</text>
<text class="xl" x="595.7" y="993.8">46</text>
<text class="xl" x="708.0" y="993.8">48</text>
<text class="xl" x="820.2" y="993.8">50</text>
<line class="dot" x1="199.7" y1="777.7" x2="708.52" y2="753.21"/>
<text class="st" x="809" y="927.7" text-anchor="end">p = 0.08, r = 0.09</text>
<g class="p">
<circle cx="199.5" cy="647.4" r="4.3"/>
<circle cx="251.2" cy="681.1" r="4.3"/>
<circle cx="448.5" cy="668.0" r="4.3"/>
<circle cx="455.9" cy="678.1" r="4.3"/>
<circle cx="421.4" cy="678.3" r="4.3"/>
<circle cx="419.3" cy="690.4" r="4.3"/>
<circle cx="501.5" cy="603.6" r="4.3"/>
<circle cx="630.7" cy="649.1" r="4.3"/>
<circle cx="623.3" cy="664.4" r="4.3"/>
<circle cx="486.6" cy="670.1" r="4.3"/>
<circle cx="553.2" cy="676.2" r="4.3"/>
<circle cx="515.8" cy="688.2" r="4.3"/>
<circle cx="494.8" cy="689.6" r="4.3"/>
<circle cx="489.5" cy="692.1" r="4.3"/>
<circle cx="486.3" cy="693.7" r="4.3"/>
<circle cx="507.6" cy="697.5" r="4.3"/>
<circle cx="331.2" cy="712.6" r="4.3"/>
<circle cx="355.2" cy="713.9" r="4.3"/>
<circle cx="334.4" cy="734.1" r="4.3"/>
<circle cx="344.6" cy="744.5" r="4.3"/>
<circle cx="351.7" cy="744.3" r="4.3"/>
<circle cx="330.6" cy="749.6" r="4.3"/>
<circle cx="339.9" cy="752.7" r="4.3"/>
<circle cx="342.6" cy="753.3" r="4.3"/>
<circle cx="362.9" cy="748.7" r="4.3"/>
<circle cx="360.7" cy="751.6" r="4.3"/>
<circle cx="347.0" cy="758.2" r="4.3"/>
<circle cx="357.4" cy="758.7" r="4.3"/>
<circle cx="318.6" cy="760.9" r="4.3"/>
<circle cx="265.3" cy="762.6" r="4.3"/>
<circle cx="308.2" cy="768.0" r="4.3"/>
<circle cx="298.3" cy="773.5" r="4.3"/>
<circle cx="316.7" cy="774.3" r="4.3"/>
<circle cx="331.7" cy="777.9" r="4.3"/>
<circle cx="297.2" cy="780.8" r="4.3"/>
<circle cx="299.4" cy="788.3" r="4.3"/>
<circle cx="304.9" cy="790.2" r="4.3"/>
<circle cx="309.1" cy="798.4" r="4.3"/>
<circle cx="321.3" cy="800.1" r="4.3"/>
<circle cx="329.2" cy="802.8" r="4.3"/>
<circle cx="337.2" cy="806.1" r="4.3"/>
<circle cx="349.5" cy="788.3" r="4.3"/>
<circle cx="363.4" cy="799.0" r="4.3"/>
<circle cx="362.9" cy="770.8" r="4.3"/>
<circle cx="367.8" cy="770.2" r="4.3"/>
<circle cx="360.7" cy="781.2" r="4.3"/>
<circle cx="365.1" cy="780.6" r="4.3"/>
<circle cx="368.4" cy="783.3" r="4.3"/>
<circle cx="368.4" cy="811.8" r="4.3"/>
<circle cx="410.3" cy="702.9" r="4.3"/>
<circle cx="429.1" cy="700.2" r="4.3"/>
<circle cx="449.3" cy="700.2" r="4.3"/>
<circle cx="479.4" cy="700.2" r="4.3"/>
<circle cx="496.4" cy="702.4" r="4.3"/>
<circle cx="513.3" cy="699.6" r="4.3"/>
<circle cx="534.1" cy="704.0" r="4.3"/>
<circle cx="542.3" cy="702.4" r="4.3"/>
<circle cx="382.6" cy="707.6" r="4.3"/>
<circle cx="457.5" cy="710.0" r="4.3"/>
<circle cx="519.4" cy="706.8" r="4.3"/>
<circle cx="503.5" cy="710.6" r="4.3"/>
<circle cx="418.1" cy="717.1" r="4.3"/>
<circle cx="411.6" cy="719.9" r="4.3"/>
<circle cx="451.5" cy="715.0" r="4.3"/>
<circle cx="462.5" cy="718.8" r="4.3"/>
<circle cx="472.3" cy="718.2" r="4.3"/>
<circle cx="475.0" cy="716.6" r="4.3"/>
<circle cx="482.2" cy="715.0" r="4.3"/>
<circle cx="486.0" cy="715.0" r="4.3"/>
<circle cx="510.6" cy="715.5" r="4.3"/>
<circle cx="524.3" cy="715.5" r="4.3"/>
<circle cx="533.0" cy="712.2" r="4.3"/>
<circle cx="542.9" cy="713.3" r="4.3"/>
<circle cx="534.1" cy="719.3" r="4.3"/>
<circle cx="379.8" cy="725.9" r="4.3"/>
<circle cx="384.6" cy="727.3" r="4.3"/>
<circle cx="401.2" cy="727.3" r="4.3"/>
<circle cx="438.4" cy="721.5" r="4.3"/>
<circle cx="437.3" cy="727.5" r="4.3"/>
<circle cx="453.7" cy="725.9" r="4.3"/>
<circle cx="471.8" cy="722.1" r="4.3"/>
<circle cx="477.8" cy="728.1" r="4.3"/>
<circle cx="490.9" cy="724.3" r="4.3"/>
<circle cx="512.2" cy="721.5" r="4.3"/>
<circle cx="516.6" cy="723.7" r="4.3"/>
<circle cx="513.3" cy="727.0" r="4.3"/>
<circle cx="523.2" cy="724.3" r="4.3"/>
<circle cx="536.3" cy="721.5" r="4.3"/>
<circle cx="544.0" cy="721.0" r="4.3"/>
<circle cx="548.4" cy="721.5" r="4.3"/>
<circle cx="541.8" cy="728.6" r="4.3"/>
<circle cx="528.7" cy="730.8" r="4.3"/>
<circle cx="411.0" cy="733.0" r="4.3"/>
<circle cx="420.3" cy="731.9" r="4.3"/>
<circle cx="425.8" cy="734.7" r="4.3"/>
<circle cx="398.4" cy="737.9" r="4.3"/>
<circle cx="434.0" cy="737.9" r="4.3"/>
<circle cx="455.3" cy="733.0" r="4.3"/>
<circle cx="461.9" cy="733.6" r="4.3"/>
<circle cx="461.4" cy="735.8" r="4.3"/>
<circle cx="468.5" cy="733.0" r="4.3"/>
<circle cx="474.0" cy="730.8" r="4.3"/>
<circle cx="493.6" cy="733.6" r="4.3"/>
<circle cx="502.9" cy="730.8" r="4.3"/>
<circle cx="509.0" cy="736.8" r="4.3"/>
<circle cx="516.6" cy="738.5" r="4.3"/>
<circle cx="513.3" cy="740.1" r="4.3"/>
<circle cx="547.3" cy="734.1" r="4.3"/>
<circle cx="526.5" cy="731.9" r="4.3"/>
<circle cx="383.7" cy="742.3" r="4.3"/>
<circle cx="395.7" cy="745.1" r="4.3"/>
<circle cx="410.5" cy="744.0" r="4.3"/>
<circle cx="417.1" cy="740.7" r="4.3"/>
<circle cx="430.2" cy="744.0" r="4.3"/>
<circle cx="448.8" cy="739.0" r="4.3"/>
<circle cx="451.5" cy="744.5" r="4.3"/>
<circle cx="443.3" cy="746.7" r="4.3"/>
<circle cx="475.6" cy="741.2" r="4.3"/>
<circle cx="478.3" cy="742.9" r="4.3"/>
<circle cx="483.8" cy="741.2" r="4.3"/>
<circle cx="486.0" cy="742.9" r="4.3"/>
<circle cx="474.0" cy="744.0" r="4.3"/>
<circle cx="546.2" cy="741.2" r="4.3"/>
<circle cx="378.2" cy="748.9" r="4.3"/>
<circle cx="408.3" cy="748.9" r="4.3"/>
<circle cx="433.5" cy="749.4" r="4.3"/>
<circle cx="435.7" cy="751.6" r="4.3"/>
<circle cx="429.6" cy="752.7" r="4.3"/>
<circle cx="443.3" cy="752.7" r="4.3"/>
<circle cx="461.9" cy="748.3" r="4.3"/>
<circle cx="477.2" cy="750.5" r="4.3"/>
<circle cx="478.3" cy="753.8" r="4.3"/>
<circle cx="506.2" cy="749.4" r="4.3"/>
<circle cx="500.8" cy="753.8" r="4.3"/>
<circle cx="513.3" cy="752.7" r="4.3"/>
<circle cx="523.2" cy="750.5" r="4.3"/>
<circle cx="528.1" cy="750.0" r="4.3"/>
<circle cx="527.6" cy="752.7" r="4.3"/>
<circle cx="535.2" cy="752.2" r="4.3"/>
<circle cx="539.1" cy="753.3" r="4.3"/>
<circle cx="396.3" cy="754.4" r="4.3"/>
<circle cx="393.5" cy="756.0" r="4.3"/>
<circle cx="393.0" cy="760.9" r="4.3"/>
<circle cx="413.2" cy="760.9" r="4.3"/>
<circle cx="423.6" cy="761.5" r="4.3"/>
<circle cx="428.0" cy="762.6" r="4.3"/>
<circle cx="457.5" cy="763.1" r="4.3"/>
<circle cx="472.3" cy="757.1" r="4.3"/>
<circle cx="492.6" cy="757.1" r="4.3"/>
<circle cx="481.6" cy="762.6" r="4.3"/>
<circle cx="476.7" cy="764.7" r="4.3"/>
<circle cx="511.2" cy="757.1" r="4.3"/>
<circle cx="493.6" cy="763.7" r="4.3"/>
<circle cx="539.1" cy="762.6" r="4.3"/>
<circle cx="549.5" cy="760.4" r="4.3"/>
<circle cx="374.9" cy="772.4" r="4.3"/>
<circle cx="399.5" cy="766.4" r="4.3"/>
<circle cx="402.8" cy="765.8" r="4.3"/>
<circle cx="397.9" cy="774.0" r="4.3"/>
<circle cx="414.9" cy="771.9" r="4.3"/>
<circle cx="428.0" cy="766.9" r="4.3"/>
<circle cx="430.2" cy="768.6" r="4.3"/>
<circle cx="448.8" cy="768.0" r="4.3"/>
<circle cx="451.0" cy="770.2" r="4.3"/>
<circle cx="446.6" cy="773.5" r="4.3"/>
<circle cx="474.0" cy="766.4" r="4.3"/>
<circle cx="490.4" cy="771.3" r="4.3"/>
<circle cx="493.6" cy="774.6" r="4.3"/>
<circle cx="488.7" cy="772.4" r="4.3"/>
<circle cx="502.4" cy="766.4" r="4.3"/>
<circle cx="512.2" cy="772.4" r="4.3"/>
<circle cx="522.1" cy="771.3" r="4.3"/>
<circle cx="536.3" cy="768.0" r="4.3"/>
<circle cx="541.8" cy="771.3" r="4.3"/>
<circle cx="544.0" cy="774.6" r="4.3"/>
<circle cx="384.2" cy="782.0" r="4.3"/>
<circle cx="426.9" cy="779.0" r="4.3"/>
<circle cx="446.6" cy="779.5" r="4.3"/>
<circle cx="447.7" cy="776.8" r="4.3"/>
<circle cx="479.4" cy="778.4" r="4.3"/>
<circle cx="471.2" cy="781.7" r="4.3"/>
<circle cx="494.7" cy="782.8" r="4.3"/>
<circle cx="540.2" cy="779.5" r="4.3"/>
<circle cx="549.5" cy="777.9" r="4.3"/>
<circle cx="513.3" cy="782.3" r="4.3"/>
<circle cx="521.0" cy="781.2" r="4.3"/>
<circle cx="523.2" cy="783.3" r="4.3"/>
<circle cx="510.1" cy="785.0" r="4.3"/>
<circle cx="518.8" cy="785.5" r="4.3"/>
<circle cx="376.0" cy="788.3" r="4.3"/>
<circle cx="401.4" cy="785.2" r="4.3"/>
<circle cx="424.2" cy="789.9" r="4.3"/>
<circle cx="431.3" cy="787.7" r="4.3"/>
<circle cx="435.7" cy="784.4" r="4.3"/>
<circle cx="438.9" cy="782.8" r="4.3"/>
<circle cx="434.6" cy="791.0" r="4.3"/>
<circle cx="459.2" cy="786.9" r="4.3"/>
<circle cx="463.6" cy="793.2" r="4.3"/>
<circle cx="402.8" cy="794.8" r="4.3"/>
<circle cx="406.1" cy="796.5" r="4.3"/>
<circle cx="477.8" cy="794.3" r="4.3"/>
<circle cx="484.3" cy="798.1" r="4.3"/>
<circle cx="490.4" cy="795.4" r="4.3"/>
<circle cx="494.7" cy="798.1" r="4.3"/>
<circle cx="498.0" cy="799.2" r="4.3"/>
<circle cx="515.5" cy="793.7" r="4.3"/>
<circle cx="526.5" cy="794.3" r="4.3"/>
<circle cx="528.1" cy="793.2" r="4.3"/>
<circle cx="525.4" cy="799.2" r="4.3"/>
<circle cx="427.4" cy="798.7" r="4.3"/>
<circle cx="435.7" cy="796.5" r="4.3"/>
<circle cx="443.3" cy="797.6" r="4.3"/>
<circle cx="397.9" cy="801.4" r="4.3"/>
<circle cx="469.0" cy="800.9" r="4.3"/>
<circle cx="426.9" cy="803.0" r="4.3"/>
<circle cx="435.7" cy="802.0" r="4.3"/>
<circle cx="440.0" cy="803.6" r="4.3"/>
<circle cx="448.8" cy="804.1" r="4.3"/>
<circle cx="452.1" cy="804.1" r="4.3"/>
<circle cx="509.0" cy="801.4" r="4.3"/>
<circle cx="494.7" cy="807.4" r="4.3"/>
<circle cx="539.1" cy="808.0" r="4.3"/>
<circle cx="429.6" cy="807.4" r="4.3"/>
<circle cx="371.6" cy="811.8" r="4.3"/>
<circle cx="426.9" cy="810.7" r="4.3"/>
<circle cx="462.5" cy="810.2" r="4.3"/>
<circle cx="465.7" cy="809.6" r="4.3"/>
<circle cx="446.6" cy="812.9" r="4.3"/>
<circle cx="506.8" cy="812.9" r="4.3"/>
<circle cx="530.9" cy="812.9" r="4.3"/>
<circle cx="548.4" cy="811.8" r="4.3"/>
<circle cx="559.3" cy="703.8" r="4.3"/>
<circle cx="620.6" cy="702.4" r="4.3"/>
<circle cx="626.3" cy="711.5" r="4.3"/>
<circle cx="563.7" cy="721.5" r="4.3"/>
<circle cx="611.1" cy="716.4" r="4.3"/>
<circle cx="602.0" cy="719.3" r="4.3"/>
<circle cx="606.4" cy="722.6" r="4.3"/>
<circle cx="644.3" cy="720.2" r="4.3"/>
<circle cx="644.5" cy="720.8" r="4.3"/>
<circle cx="657.2" cy="728.1" r="4.3"/>
<circle cx="643.9" cy="735.2" r="4.3"/>
<circle cx="614.0" cy="736.6" r="4.3"/>
<circle cx="599.8" cy="732.8" r="4.3"/>
<circle cx="593.0" cy="736.5" r="4.3"/>
<circle cx="584.1" cy="742.6" r="4.3"/>
<circle cx="635.9" cy="751.9" r="4.3"/>
<circle cx="656.7" cy="757.9" r="4.3"/>
<circle cx="564.2" cy="750.5" r="4.3"/>
<circle cx="560.9" cy="753.3" r="4.3"/>
<circle cx="558.8" cy="754.9" r="4.3"/>
<circle cx="563.1" cy="757.1" r="4.3"/>
<circle cx="555.5" cy="759.3" r="4.3"/>
<circle cx="578.2" cy="764.5" r="4.3"/>
<circle cx="609.6" cy="766.7" r="4.3"/>
<circle cx="642.8" cy="770.4" r="4.3"/>
<circle cx="714.9" cy="774.3" r="4.3"/>
<circle cx="704.3" cy="786.4" r="4.3"/>
<circle cx="564.2" cy="768.0" r="4.3"/>
<circle cx="560.9" cy="770.2" r="4.3"/>
<circle cx="582.8" cy="770.2" r="4.3"/>
<circle cx="589.9" cy="772.7" r="4.3"/>
<circle cx="586.1" cy="775.1" r="4.3"/>
<circle cx="571.9" cy="777.6" r="4.3"/>
<circle cx="575.2" cy="777.9" r="4.3"/>
<circle cx="558.2" cy="776.2" r="4.3"/>
<circle cx="558.8" cy="782.3" r="4.3"/>
<circle cx="611.8" cy="785.5" r="4.3"/>
<circle cx="612.2" cy="786.9" r="4.3"/>
<circle cx="645.2" cy="789.9" r="4.3"/>
<circle cx="565.9" cy="789.7" r="4.3"/>
<circle cx="563.7" cy="793.4" r="4.3"/>
<circle cx="575.9" cy="796.2" r="4.3"/>
<circle cx="572.8" cy="799.8" r="4.3"/>
<circle cx="602.7" cy="806.1" r="4.3"/>
<circle cx="610.7" cy="805.0" r="4.3"/>
<circle cx="588.8" cy="809.1" r="4.3"/>
<circle cx="585.6" cy="811.8" r="4.3"/>
<circle cx="621.7" cy="813.4" r="4.3"/>
<circle cx="254.0" cy="827.1" r="4.3"/>
<circle cx="298.3" cy="819.3" r="4.3"/>
<circle cx="302.1" cy="847.6" r="4.3"/>
<circle cx="352.2" cy="822.2" r="4.3"/>
<circle cx="361.2" cy="818.6" r="4.3"/>
<circle cx="365.3" cy="823.5" r="4.3"/>
<circle cx="391.6" cy="828.4" r="4.3"/>
<circle cx="392.7" cy="829.6" r="4.3"/>
<circle cx="407.5" cy="829.1" r="4.3"/>
<circle cx="407.5" cy="832.1" r="4.3"/>
<circle cx="417.3" cy="840.6" r="4.3"/>
<circle cx="403.7" cy="846.5" r="4.3"/>
<circle cx="373.8" cy="849.3" r="4.3"/>
<circle cx="414.9" cy="855.0" r="4.3"/>
<circle cx="398.4" cy="865.4" r="4.3"/>
<circle cx="426.0" cy="818.9" r="4.3"/>
<circle cx="439.5" cy="830.1" r="4.3"/>
<circle cx="446.0" cy="826.3" r="4.3"/>
<circle cx="450.2" cy="821.4" r="4.3"/>
<circle cx="447.7" cy="818.9" r="4.3"/>
<circle cx="455.9" cy="826.3" r="4.3"/>
<circle cx="452.6" cy="823.8" r="4.3"/>
<circle cx="453.4" cy="836.2" r="4.3"/>
<circle cx="455.9" cy="864.4" r="4.3"/>
<circle cx="675.3" cy="830.7" r="4.3"/>
<circle cx="618.9" cy="825.0" r="4.3"/>
<circle cx="572.4" cy="828.0" r="4.3"/>
<circle cx="548.3" cy="817.0" r="4.3"/>
<circle cx="533.9" cy="829.9" r="4.3"/>
<circle cx="484.6" cy="823.0" r="4.3"/>
<circle cx="493.3" cy="817.6" r="4.3"/>
<circle cx="506.8" cy="821.4" r="4.3"/>
<circle cx="507.6" cy="818.9" r="4.3"/>
<circle cx="502.7" cy="824.7" r="4.3"/>
<circle cx="516.6" cy="820.6" r="4.3"/>
<circle cx="523.2" cy="819.7" r="4.3"/>
<circle cx="521.6" cy="825.8" r="4.3"/>
<circle cx="508.7" cy="831.7" r="4.3"/>
<circle cx="463.6" cy="843.9" r="4.3"/>
<circle cx="531.4" cy="853.1" r="4.3"/>
<circle cx="544.9" cy="866.9" r="4.3"/>
<circle cx="514.7" cy="887.4" r="4.3"/>
</g>
</g>
<g id="panel4">
<text class="t" x="1291.2" y="542.0">SRK/T</text>
<line class="ax" x1="958.5" y1="561.5" x2="958.5" y2="954.80"/>
<line class="zl" x1="958.5" y1="757.85" x2="1632.50" y2="757.85"/>
<text class="yl" x="928.9" y="569.90">2.0</text>
<text class="yl" x="928.9" y="619.06">1.5</text>
<text class="yl" x="928.9" y="668.22">1.0</text>
<text class="yl" x="928.9" y="717.38">0.5</text>
<text class="yl" x="928.9" y="766.54">0.0</text>
<text class="yl" x="928.9" y="815.70">-0.5</text>
<text class="yl" x="928.9" y="864.86">-1.0</text>
<text class="yl" x="928.9" y="914.02">-1.5</text>
<text class="yl" x="928.9" y="963.18">-2.0</text>
<text class="xl" x="958.5" y="993.8">38</text>
<text class="xl" x="1070.7" y="993.8">40</text>
<text class="xl" x="1183.0" y="993.8">42</text>
<text class="xl" x="1295.2" y="993.8">44</text>
<text class="xl" x="1407.4" y="993.8">46</text>
<text class="xl" x="1519.7" y="993.8">48</text>
<text class="xl" x="1631.9" y="993.8">50</text>
<line class="reg" x1="1011.3" y1="715.3" x2="1526.7" y2="809.6"/>
<text class="st" x="995" y="927.5" text-anchor="start">p &lt; 0.01, r = -0.34</text>
<g class="p">
<circle cx="1011.4" cy="600.3" r="4.3"/>
<circle cx="1063.2" cy="659.4" r="4.3"/>
<circle cx="1222.3" cy="667.1" r="4.3"/>
<circle cx="1221.9" cy="667.8" r="4.3"/>
<circle cx="1210.4" cy="675.8" r="4.3"/>
<circle cx="1233.1" cy="676.5" r="4.3"/>
<circle cx="1230.6" cy="682.7" r="4.3"/>
<circle cx="1167.0" cy="684.4" r="4.3"/>
<circle cx="1194.4" cy="690.1" r="4.3"/>
<circle cx="1267.9" cy="683.1" r="4.3"/>
<circle cx="1254.8" cy="695.0" r="4.3"/>
<circle cx="1224.1" cy="697.0" r="4.3"/>
<circle cx="1301.2" cy="662.5" r="4.3"/>
<circle cx="1299.1" cy="665.5" r="4.3"/>
<circle cx="1298.3" cy="668.5" r="4.3"/>
<circle cx="1297.4" cy="689.0" r="4.3"/>
<circle cx="1308.9" cy="691.8" r="4.3"/>
<circle cx="1313.9" cy="693.1" r="4.3"/>
<circle cx="1345.5" cy="689.6" r="4.3"/>
<circle cx="1353.2" cy="683.1" r="4.3"/>
<circle cx="1442.4" cy="686.8" r="4.3"/>
<circle cx="1302.4" cy="697.5" r="4.3"/>
<circle cx="1077.0" cy="711.1" r="4.3"/>
<circle cx="1142.1" cy="700.7" r="4.3"/>
<circle cx="1147.0" cy="700.7" r="4.3"/>
<circle cx="1142.4" cy="713.9" r="4.3"/>
<circle cx="1163.2" cy="709.3" r="4.3"/>
<circle cx="1109.8" cy="733.0" r="4.3"/>
<circle cx="1128.9" cy="741.0" r="4.3"/>
<circle cx="1149.0" cy="731.4" r="4.3"/>
<circle cx="1143.2" cy="736.3" r="4.3"/>
<circle cx="1161.2" cy="732.8" r="4.3"/>
<circle cx="1157.9" cy="739.6" r="4.3"/>
<circle cx="1156.3" cy="740.7" r="4.3"/>
<circle cx="1174.9" cy="730.3" r="4.3"/>
<circle cx="1172.7" cy="736.3" r="4.3"/>
<circle cx="1174.3" cy="740.1" r="4.3"/>
<circle cx="1169.4" cy="742.3" r="4.3"/>
<circle cx="1177.1" cy="741.8" r="4.3"/>
<circle cx="1180.9" cy="731.9" r="4.3"/>
<circle cx="1116.9" cy="756.0" r="4.3"/>
<circle cx="1108.7" cy="759.8" r="4.3"/>
<circle cx="1110.3" cy="763.7" r="4.3"/>
<circle cx="1109.2" cy="766.4" r="4.3"/>
<circle cx="1120.2" cy="766.4" r="4.3"/>
<circle cx="1133.3" cy="766.1" r="4.3"/>
<circle cx="1141.7" cy="759.8" r="4.3"/>
<circle cx="1151.4" cy="753.8" r="4.3"/>
<circle cx="1154.6" cy="753.8" r="4.3"/>
<circle cx="1174.6" cy="757.1" r="4.3"/>
<circle cx="1065.7" cy="770.4" r="4.3"/>
<circle cx="1163.9" cy="771.1" r="4.3"/>
<circle cx="1173.2" cy="769.1" r="4.3"/>
<circle cx="1180.4" cy="772.4" r="4.3"/>
<circle cx="1176.5" cy="780.6" r="4.3"/>
<circle cx="1181.5" cy="779.0" r="4.3"/>
<circle cx="1113.6" cy="783.3" r="4.3"/>
<circle cx="1120.7" cy="791.3" r="4.3"/>
<circle cx="1195.1" cy="699.6" r="4.3"/>
<circle cx="1241.1" cy="702.9" r="4.3"/>
<circle cx="1254.2" cy="698.0" r="4.3"/>
<circle cx="1270.1" cy="702.4" r="4.3"/>
<circle cx="1286.0" cy="706.2" r="4.3"/>
<circle cx="1291.4" cy="707.8" r="4.3"/>
<circle cx="1231.6" cy="708.6" r="4.3"/>
<circle cx="1321.0" cy="705.7" r="4.3"/>
<circle cx="1324.8" cy="711.1" r="4.3"/>
<circle cx="1274.5" cy="711.1" r="4.3"/>
<circle cx="1283.2" cy="710.6" r="4.3"/>
<circle cx="1289.2" cy="711.1" r="4.3"/>
<circle cx="1273.4" cy="715.5" r="4.3"/>
<circle cx="1241.6" cy="713.9" r="4.3"/>
<circle cx="1263.5" cy="714.4" r="4.3"/>
<circle cx="1318.2" cy="717.7" r="4.3"/>
<circle cx="1187.5" cy="719.3" r="4.3"/>
<circle cx="1191.3" cy="718.8" r="4.3"/>
<circle cx="1213.2" cy="719.3" r="4.3"/>
<circle cx="1260.8" cy="721.5" r="4.3"/>
<circle cx="1286.0" cy="719.3" r="4.3"/>
<circle cx="1290.3" cy="721.5" r="4.3"/>
<circle cx="1291.4" cy="723.7" r="4.3"/>
<circle cx="1207.2" cy="724.3" r="4.3"/>
<circle cx="1225.2" cy="726.4" r="4.3"/>
<circle cx="1229.1" cy="724.3" r="4.3"/>
<circle cx="1237.8" cy="726.4" r="4.3"/>
<circle cx="1264.1" cy="726.4" r="4.3"/>
<circle cx="1265.2" cy="729.7" r="4.3"/>
<circle cx="1255.9" cy="730.3" r="4.3"/>
<circle cx="1325.3" cy="726.4" r="4.3"/>
<circle cx="1334.6" cy="724.3" r="4.3"/>
<circle cx="1315.5" cy="728.6" r="4.3"/>
<circle cx="1306.2" cy="729.7" r="4.3"/>
<circle cx="1359.8" cy="721.0" r="4.3"/>
<circle cx="1358.2" cy="729.7" r="4.3"/>
<circle cx="1211.0" cy="731.4" r="4.3"/>
<circle cx="1220.3" cy="735.2" r="4.3"/>
<circle cx="1247.7" cy="731.9" r="4.3"/>
<circle cx="1250.9" cy="734.1" r="4.3"/>
<circle cx="1286.0" cy="733.0" r="4.3"/>
<circle cx="1298.0" cy="731.9" r="4.3"/>
<circle cx="1327.5" cy="734.1" r="4.3"/>
<circle cx="1346.1" cy="731.9" r="4.3"/>
<circle cx="1313.9" cy="736.3" r="4.3"/>
<circle cx="1354.3" cy="735.2" r="4.3"/>
<circle cx="1260.8" cy="737.9" r="4.3"/>
<circle cx="1263.5" cy="737.9" r="4.3"/>
<circle cx="1252.0" cy="739.0" r="4.3"/>
<circle cx="1238.4" cy="738.5" r="4.3"/>
<circle cx="1241.6" cy="741.8" r="4.3"/>
<circle cx="1290.3" cy="740.7" r="4.3"/>
<circle cx="1291.4" cy="742.9" r="4.3"/>
<circle cx="1290.9" cy="745.1" r="4.3"/>
<circle cx="1334.1" cy="739.6" r="4.3"/>
<circle cx="1337.4" cy="741.8" r="4.3"/>
<circle cx="1339.6" cy="744.0" r="4.3"/>
<circle cx="1347.2" cy="744.0" r="4.3"/>
<circle cx="1190.2" cy="745.6" r="4.3"/>
<circle cx="1271.2" cy="748.9" r="4.3"/>
<circle cx="1268.4" cy="749.4" r="4.3"/>
<circle cx="1213.7" cy="748.9" r="4.3"/>
<circle cx="1225.8" cy="750.0" r="4.3"/>
<circle cx="1228.0" cy="752.2" r="4.3"/>
<circle cx="1235.6" cy="750.0" r="4.3"/>
<circle cx="1282.7" cy="747.2" r="4.3"/>
<circle cx="1302.9" cy="747.2" r="4.3"/>
<circle cx="1306.2" cy="751.6" r="4.3"/>
<circle cx="1292.5" cy="750.5" r="4.3"/>
<circle cx="1325.3" cy="747.2" r="4.3"/>
<circle cx="1323.2" cy="750.5" r="4.3"/>
<circle cx="1331.9" cy="749.4" r="4.3"/>
<circle cx="1336.3" cy="751.6" r="4.3"/>
<circle cx="1321.0" cy="753.8" r="4.3"/>
<circle cx="1340.7" cy="753.8" r="4.3"/>
<circle cx="1351.1" cy="753.8" r="4.3"/>
<circle cx="1188.0" cy="754.9" r="4.3"/>
<circle cx="1208.3" cy="758.2" r="4.3"/>
<circle cx="1279.4" cy="754.4" r="4.3"/>
<circle cx="1210.4" cy="760.9" r="4.3"/>
<circle cx="1227.4" cy="759.8" r="4.3"/>
<circle cx="1236.7" cy="754.9" r="4.3"/>
<circle cx="1259.7" cy="759.3" r="4.3"/>
<circle cx="1270.6" cy="761.5" r="4.3"/>
<circle cx="1284.9" cy="759.3" r="4.3"/>
<circle cx="1296.9" cy="760.4" r="4.3"/>
<circle cx="1305.6" cy="761.5" r="4.3"/>
<circle cx="1331.9" cy="760.4" r="4.3"/>
<circle cx="1341.8" cy="763.7" r="4.3"/>
<circle cx="1321.0" cy="757.6" r="4.3"/>
<circle cx="1336.3" cy="757.1" r="4.3"/>
<circle cx="1343.9" cy="757.6" r="4.3"/>
<circle cx="1261.9" cy="763.7" r="4.3"/>
<circle cx="1249.8" cy="763.7" r="4.3"/>
<circle cx="1195.7" cy="766.4" r="4.3"/>
<circle cx="1196.2" cy="768.0" r="4.3"/>
<circle cx="1204.4" cy="766.7" r="4.3"/>
<circle cx="1238.9" cy="764.7" r="4.3"/>
<circle cx="1241.1" cy="768.0" r="4.3"/>
<circle cx="1243.3" cy="770.2" r="4.3"/>
<circle cx="1247.7" cy="768.0" r="4.3"/>
<circle cx="1252.0" cy="766.4" r="4.3"/>
<circle cx="1270.6" cy="766.4" r="4.3"/>
<circle cx="1281.0" cy="768.6" r="4.3"/>
<circle cx="1296.9" cy="770.2" r="4.3"/>
<circle cx="1300.2" cy="773.0" r="4.3"/>
<circle cx="1294.7" cy="773.5" r="4.3"/>
<circle cx="1321.0" cy="768.0" r="4.3"/>
<circle cx="1324.2" cy="767.5" r="4.3"/>
<circle cx="1334.1" cy="769.7" r="4.3"/>
<circle cx="1353.2" cy="765.6" r="4.3"/>
<circle cx="1346.7" cy="773.5" r="4.3"/>
<circle cx="1361.5" cy="769.1" r="4.3"/>
<circle cx="1257.5" cy="773.5" r="4.3"/>
<circle cx="1260.8" cy="774.6" r="4.3"/>
<circle cx="1246.0" cy="777.3" r="4.3"/>
<circle cx="1267.3" cy="779.5" r="4.3"/>
<circle cx="1283.8" cy="777.3" r="4.3"/>
<circle cx="1289.2" cy="775.7" r="4.3"/>
<circle cx="1317.7" cy="774.6" r="4.3"/>
<circle cx="1327.5" cy="779.5" r="4.3"/>
<circle cx="1346.1" cy="781.2" r="4.3"/>
<circle cx="1351.6" cy="782.3" r="4.3"/>
<circle cx="1356.0" cy="784.4" r="4.3"/>
<circle cx="1209.9" cy="784.4" r="4.3"/>
<circle cx="1229.1" cy="782.3" r="4.3"/>
<circle cx="1216.5" cy="788.8" r="4.3"/>
<circle cx="1238.9" cy="785.5" r="4.3"/>
<circle cx="1240.0" cy="790.5" r="4.3"/>
<circle cx="1257.5" cy="785.5" r="4.3"/>
<circle cx="1257.0" cy="787.2" r="4.3"/>
<circle cx="1306.2" cy="785.5" r="4.3"/>
<circle cx="1336.8" cy="785.0" r="4.3"/>
<circle cx="1328.6" cy="787.7" r="4.3"/>
<circle cx="1325.3" cy="788.8" r="4.3"/>
<circle cx="1352.7" cy="787.7" r="4.3"/>
<circle cx="1353.8" cy="791.0" r="4.3"/>
<circle cx="1185.8" cy="788.8" r="4.3"/>
<circle cx="1226.3" cy="791.6" r="4.3"/>
<circle cx="1217.0" cy="793.2" r="4.3"/>
<circle cx="1218.1" cy="794.8" r="4.3"/>
<circle cx="1286.0" cy="791.6" r="4.3"/>
<circle cx="1274.5" cy="794.8" r="4.3"/>
<circle cx="1275.0" cy="797.6" r="4.3"/>
<circle cx="1317.7" cy="791.0" r="4.3"/>
<circle cx="1313.3" cy="794.3" r="4.3"/>
<circle cx="1297.4" cy="796.5" r="4.3"/>
<circle cx="1250.4" cy="797.6" r="4.3"/>
<circle cx="1258.6" cy="798.7" r="4.3"/>
<circle cx="1245.5" cy="800.3" r="4.3"/>
<circle cx="1263.0" cy="802.5" r="4.3"/>
<circle cx="1305.6" cy="801.4" r="4.3"/>
<circle cx="1308.9" cy="803.0" r="4.3"/>
<circle cx="1303.5" cy="804.7" r="4.3"/>
<circle cx="1317.7" cy="802.0" r="4.3"/>
<circle cx="1320.4" cy="803.0" r="4.3"/>
<circle cx="1335.2" cy="800.9" r="4.3"/>
<circle cx="1338.5" cy="803.6" r="4.3"/>
<circle cx="1345.0" cy="808.5" r="4.3"/>
<circle cx="1280.5" cy="809.1" r="4.3"/>
<circle cx="1213.2" cy="812.3" r="4.3"/>
<circle cx="1218.7" cy="812.9" r="4.3"/>
<circle cx="1321.0" cy="812.9" r="4.3"/>
<circle cx="1332.5" cy="810.7" r="4.3"/>
<circle cx="1361.5" cy="811.3" r="4.3"/>
<circle cx="1437.8" cy="731.7" r="4.3"/>
<circle cx="1422.7" cy="736.8" r="4.3"/>
<circle cx="1469.0" cy="737.6" r="4.3"/>
<circle cx="1364.7" cy="721.5" r="4.3"/>
<circle cx="1371.3" cy="725.9" r="4.3"/>
<circle cx="1369.7" cy="729.7" r="4.3"/>
<circle cx="1374.6" cy="731.9" r="4.3"/>
<circle cx="1413.8" cy="750.0" r="4.3"/>
<circle cx="1435.5" cy="752.7" r="4.3"/>
<circle cx="1455.6" cy="751.8" r="4.3"/>
<circle cx="1395.9" cy="755.4" r="4.3"/>
<circle cx="1389.9" cy="760.9" r="4.3"/>
<circle cx="1394.3" cy="766.4" r="4.3"/>
<circle cx="1375.1" cy="764.7" r="4.3"/>
<circle cx="1418.0" cy="764.4" r="4.3"/>
<circle cx="1454.7" cy="765.0" r="4.3"/>
<circle cx="1364.7" cy="769.5" r="4.3"/>
<circle cx="1384.4" cy="771.0" r="4.3"/>
<circle cx="1424.2" cy="773.5" r="4.3"/>
<circle cx="1423.8" cy="774.6" r="4.3"/>
<circle cx="1432.4" cy="782.8" r="4.3"/>
<circle cx="1375.7" cy="777.3" r="4.3"/>
<circle cx="1370.2" cy="780.6" r="4.3"/>
<circle cx="1387.4" cy="780.6" r="4.3"/>
<circle cx="1405.0" cy="783.9" r="4.3"/>
<circle cx="1383.3" cy="792.7" r="4.3"/>
<circle cx="1386.6" cy="794.8" r="4.3"/>
<circle cx="1468.4" cy="798.1" r="4.3"/>
<circle cx="1516.3" cy="791.8" r="4.3"/>
<circle cx="1426.0" cy="802.0" r="4.3"/>
<circle cx="1397.0" cy="805.0" r="4.3"/>
<circle cx="1414.5" cy="809.1" r="4.3"/>
<circle cx="1384.2" cy="810.2" r="4.3"/>
<circle cx="1368.0" cy="804.1" r="4.3"/>
<circle cx="1370.2" cy="808.5" r="4.3"/>
<circle cx="1372.4" cy="811.8" r="4.3"/>
<circle cx="1457.0" cy="808.0" r="4.3"/>
<circle cx="1455.0" cy="810.7" r="4.3"/>
<circle cx="1177.3" cy="844.0" r="4.3"/>
<circle cx="1204.4" cy="821.4" r="4.3"/>
<circle cx="1210.4" cy="831.6" r="4.3"/>
<circle cx="1219.1" cy="839.9" r="4.3"/>
<circle cx="1219.5" cy="816.0" r="4.3"/>
<circle cx="1238.4" cy="820.9" r="4.3"/>
<circle cx="1245.7" cy="818.1" r="4.3"/>
<circle cx="1240.8" cy="829.6" r="4.3"/>
<circle cx="1258.0" cy="835.3" r="4.3"/>
<circle cx="1260.0" cy="838.6" r="4.3"/>
<circle cx="1267.9" cy="828.8" r="4.3"/>
<circle cx="1265.4" cy="862.4" r="4.3"/>
<circle cx="1254.8" cy="868.5" r="4.3"/>
<circle cx="1263.8" cy="898.9" r="4.3"/>
<circle cx="1283.2" cy="817.3" r="4.3"/>
<circle cx="1275.6" cy="826.3" r="4.3"/>
<circle cx="1277.7" cy="846.3" r="4.3"/>
<circle cx="1304.3" cy="834.0" r="4.3"/>
<circle cx="1306.0" cy="838.3" r="4.3"/>
<circle cx="1304.3" cy="843.2" r="4.3"/>
<circle cx="1314.3" cy="837.0" r="4.3"/>
<circle cx="1319.3" cy="825.2" r="4.3"/>
<circle cx="1302.4" cy="853.4" r="4.3"/>
<circle cx="1320.1" cy="854.2" r="4.3"/>
<circle cx="1326.5" cy="871.0" r="4.3"/>
<circle cx="1342.6" cy="822.2" r="4.3"/>
<circle cx="1345.9" cy="815.6" r="4.3"/>
<circle cx="1356.5" cy="819.4" r="4.3"/>
<circle cx="1350.8" cy="835.8" r="4.3"/>
<circle cx="1375.7" cy="823.8" r="4.3"/>
<circle cx="1375.7" cy="827.5" r="4.3"/>
<circle cx="1372.9" cy="814.8" r="4.3"/>
<circle cx="1377.5" cy="852.6" r="4.3"/>
<circle cx="1360.1" cy="867.3" r="4.3"/>
<circle cx="1361.9" cy="869.5" r="4.3"/>
<circle cx="1397.9" cy="826.6" r="4.3"/>
<circle cx="1411.5" cy="823.0" r="4.3"/>
<circle cx="1433.2" cy="830.9" r="4.3"/>
<circle cx="1447.3" cy="837.3" r="4.3"/>
<circle cx="1421.4" cy="846.8" r="4.3"/>
<circle cx="1430.7" cy="846.0" r="4.3"/>
<circle cx="1487.0" cy="861.1" r="4.3"/>
<circle cx="1400.8" cy="880.8" r="4.3"/>
<circle cx="1401.7" cy="888.4" r="4.3"/>
<circle cx="1457.0" cy="901.3" r="4.3"/>
<circle cx="1526.4" cy="901.0" r="4.3"/>
</g>
</g>
<text x="0" y="0" font-size="34.3" text-anchor="middle" transform="translate(24.6,484.6) rotate(-90)">Prediction error (D)</text>
<text x="891.6" y="1051.6" font-size="34.3" text-anchor="middle">Keratometry (D)</text>
</svg>
</body>
</html>
